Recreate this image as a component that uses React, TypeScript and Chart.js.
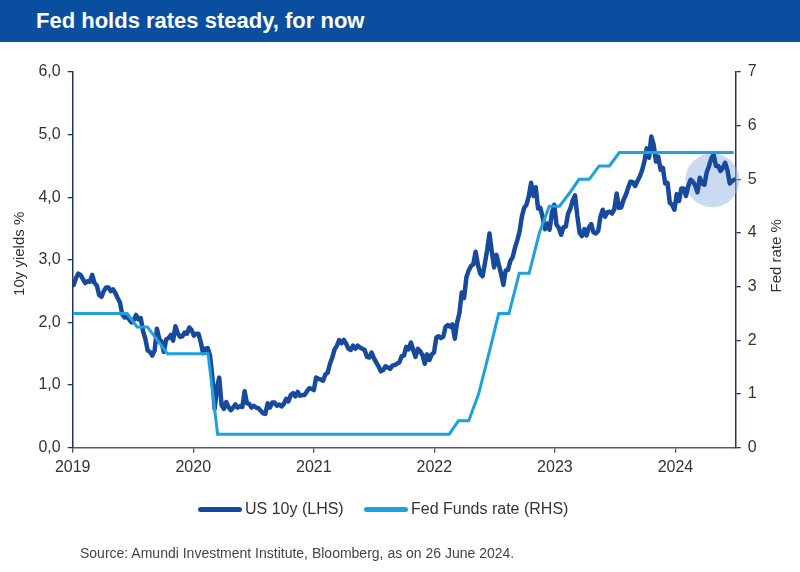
import { useEffect, useRef } from "react";
import { Chart, registerables } from "chart.js";

Chart.register(...registerables);

const TITLE = "Fed holds rates steady, for now";
const SOURCE = "Source: Amundi Investment Institute, Bloomberg, as on 26 June 2024.";
const LEGEND_US = "US 10y (LHS)";
const LEGEND_FED = "Fed Funds rate (RHS)";
const LEFT_TITLE = "10y yields %";
const RIGHT_TITLE = "Fed rate %";

const xMin = 2019;
const xMax = 2024.5;
const xTickYears = [2019, 2020, 2021, 2022, 2023, 2024];
const leftMax = 6;
const rightMax = 7;

// US 10y weekly closes (Fridays), one list per year with its first Friday
const us10yStart2019 = "2019-01-04";
const us10y2019 = [2.60, 2.71, 2.78, 2.76, 2.69, 2.63, 2.66, 2.65, 2.76, 2.63, 2.59, 2.44, 2.41, 2.50, 2.56, 2.56, 2.50, 2.53, 2.47, 2.39, 2.32, 2.13, 2.08, 2.09, 2.05, 2.00, 2.04, 2.12, 2.05, 2.07, 1.86, 1.74, 1.55, 1.53, 1.47, 1.55, 1.90, 1.74, 1.69, 1.53, 1.73, 1.75, 1.80, 1.71, 1.94, 1.83, 1.77, 1.78, 1.84, 1.82, 1.92, 1.88];
const us10yStart2020 = "2020-01-03";
const us10y2020 = [1.79, 1.82, 1.82, 1.68, 1.51, 1.58, 1.59, 1.47, 1.13, 0.62, 0.96, 1.12, 0.68, 0.62, 0.73, 0.65, 0.60, 0.64, 0.69, 0.64, 0.66, 0.65, 0.90, 0.71, 0.70, 0.64, 0.67, 0.64, 0.63, 0.59, 0.55, 0.54, 0.71, 0.64, 0.72, 0.72, 0.67, 0.69, 0.66, 0.70, 0.78, 0.74, 0.84, 0.87, 0.82, 0.89, 0.83, 0.84, 0.84, 0.90, 0.95, 0.94];
const us10yStart2021 = "2021-01-01";
const us10y2021 = [0.92, 1.12, 1.10, 1.09, 1.07, 1.17, 1.20, 1.34, 1.44, 1.57, 1.63, 1.72, 1.67, 1.72, 1.66, 1.58, 1.56, 1.63, 1.58, 1.63, 1.60, 1.58, 1.56, 1.45, 1.44, 1.52, 1.43, 1.36, 1.30, 1.22, 1.24, 1.30, 1.28, 1.26, 1.31, 1.32, 1.34, 1.36, 1.46, 1.47, 1.61, 1.57, 1.68, 1.56, 1.45, 1.58, 1.54, 1.48, 1.34, 1.49, 1.40, 1.49, 1.52];
const us10yStart2022 = "2022-01-07";
const us10y2022 = [1.76, 1.78, 1.75, 1.77, 1.93, 1.96, 1.93, 1.97, 1.74, 2.00, 2.15, 2.48, 2.39, 2.72, 2.83, 2.90, 2.93, 3.13, 2.92, 2.78, 2.74, 2.94, 3.16, 3.42, 3.13, 2.88, 3.08, 2.93, 2.78, 2.60, 2.83, 2.84, 2.98, 3.04, 3.19, 3.31, 3.45, 3.69, 3.83, 3.88, 4.02, 4.23, 4.02, 4.16, 3.82, 3.83, 3.68, 3.49, 3.58, 3.48, 3.75, 3.88];
const us10yStart2023 = "2023-01-06";
const us10y2023 = [3.56, 3.51, 3.40, 3.52, 3.53, 3.74, 3.82, 3.95, 4.03, 3.70, 3.43, 3.38, 3.49, 3.39, 3.52, 3.57, 3.44, 3.42, 3.46, 3.69, 3.80, 3.69, 3.76, 3.77, 3.74, 3.81, 4.06, 3.83, 3.84, 3.96, 4.04, 4.15, 4.25, 4.24, 4.18, 4.26, 4.33, 4.43, 4.57, 4.78, 4.63, 4.97, 4.84, 4.57, 4.65, 4.44, 4.47, 4.22, 4.23, 3.91, 3.88, 3.80];
const us10yStart2024 = "2024-01-05";
const us10y2024 = [4.05, 3.94, 4.14, 4.14, 4.02, 4.18, 4.28, 4.25, 4.19, 4.08, 4.31, 4.22, 4.20, 4.40, 4.50, 4.62, 4.68, 4.50, 4.50, 4.42, 4.47, 4.55, 4.43, 4.22, 4.26, 4.28];

// Fed Funds upper bound, monthly (plotted mid-month)
const fedFirstDate = "2019-01-01";
const fedFirstValue = 2.5;
const fedMonthStart = "2019-01";
const fedMonthly = [
  2.5, 2.5, 2.5, 2.5, 2.5, 2.5, 2.25, 2.25, 2.0, 1.75, 1.75, 1.75,
  1.75, 1.75, 0.25, 0.25, 0.25, 0.25, 0.25, 0.25, 0.25, 0.25, 0.25, 0.25,
  0.25, 0.25, 0.25, 0.25, 0.25, 0.25, 0.25, 0.25, 0.25, 0.25, 0.25, 0.25,
  0.25, 0.25, 0.5, 0.5, 1.0, 1.75, 2.5, 2.5, 3.25, 3.25, 4.0, 4.5,
  4.5, 4.75, 5.0, 5.0, 5.25, 5.25, 5.5, 5.5, 5.5, 5.5, 5.5, 5.5,
  5.5, 5.5, 5.5, 5.5, 5.5, 5.5,
];
const fedLastDate = "2024-06-26";
const fedLastValue = 5.5;

// Highlight bubble (recent months)
const highlightDate = "2024-04-22";
const highlightValue = 4.27;

const FONT = "'Liberation Sans', Arial, Helvetica, sans-serif";
const US_COLOR = "#174a9c";
const FED_COLOR = "#1ea1dc";
const NAVY = "#1f3560";

function yearFrac(d: Date): number {
  const y = d.getUTCFullYear();
  const s = Date.UTC(y, 0, 1);
  const e = Date.UTC(y + 1, 0, 1);
  return y + (d.getTime() - s) / (e - s);
}
function parseDate(s: string): Date {
  return new Date(s + "T00:00:00Z");
}
function weekly(start: string, vals: number[]) {
  const t0 = parseDate(start).getTime();
  return vals.map((v, i) => ({ x: yearFrac(new Date(t0 + i * 7 * 86400000)), y: v }));
}

const highlightPlugin = {
  id: "highlight",
  beforeDatasetsDraw(chart: any) {
    const { ctx, scales } = chart;
    const cx = scales.x.getPixelForValue(yearFrac(parseDate(highlightDate)));
    const cy = scales.y.getPixelForValue(highlightValue);
    ctx.save();
    ctx.beginPath();
    ctx.arc(cx, cy, 27, 0, Math.PI * 2);
    ctx.fillStyle = "rgba(150,182,228,0.5)";
    ctx.fill();
    ctx.restore();
  },
};

const axisTitlesPlugin = {
  id: "axisTitles",
  afterDraw(chart: any) {
    const { ctx, chartArea } = chart;
    const midY = (chartArea.top + chartArea.bottom) / 2;
    ctx.save();
    ctx.font = `15px ${FONT}`;
    ctx.fillStyle = "#333";
    ctx.textAlign = "center";
    ctx.textBaseline = "middle";
    ctx.translate(20, midY - 6);
    ctx.rotate(-Math.PI / 2);
    ctx.fillText(LEFT_TITLE, 0, 0);
    ctx.restore();
    ctx.save();
    ctx.font = `15px ${FONT}`;
    ctx.fillStyle = "#333";
    ctx.textAlign = "center";
    ctx.textBaseline = "middle";
    ctx.translate(777, midY - 4);
    ctx.rotate(-Math.PI / 2);
    ctx.fillText(RIGHT_TITLE, 0, 0);
    ctx.restore();
  },
};

export default function App() {
  const ref = useRef<HTMLCanvasElement | null>(null);

  useEffect(() => {
    document.body.style.margin = "0";
    const usData = [
      ...weekly(us10yStart2019, us10y2019),
      ...weekly(us10yStart2020, us10y2020),
      ...weekly(us10yStart2021, us10y2021),
      ...weekly(us10yStart2022, us10y2022),
      ...weekly(us10yStart2023, us10y2023),
      ...weekly(us10yStart2024, us10y2024),
    ];
    const [fy, fm] = fedMonthStart.split("-").map(Number);
    const fedData = [
      { x: yearFrac(parseDate(fedFirstDate)), y: fedFirstValue },
      ...fedMonthly.map((v, i) => ({
        x: yearFrac(new Date(Date.UTC(fy, fm - 1 + i, 15))),
        y: v,
      })),
      { x: yearFrac(parseDate(fedLastDate)), y: fedLastValue },
    ];

    const tickFont = { family: FONT, size: 16 };
    const chart = new Chart(ref.current as HTMLCanvasElement, {
      type: "line",
      data: {
        datasets: [
          {
            label: LEGEND_US,
            data: usData,
            yAxisID: "y",
            borderColor: US_COLOR,
            backgroundColor: US_COLOR,
            borderWidth: 4.5,
            borderJoinStyle: "round",
            borderCapStyle: "round",
            pointRadius: 0,
            tension: 0,
            order: 1,
          },
          {
            label: LEGEND_FED,
            data: fedData,
            yAxisID: "y1",
            borderColor: FED_COLOR,
            backgroundColor: FED_COLOR,
            borderWidth: 3,
            pointRadius: 0,
            tension: 0,
            order: 0,
          },
        ],
      },
      options: {
        responsive: false,
        animation: false,
        events: [],
        layout: { padding: { top: 30, bottom: 94.3, left: 0, right: 0 } },
        plugins: { legend: { display: false }, tooltip: { enabled: false } },
        scales: {
          x: {
            type: "linear",
            position: "bottom",
            min: xMin,
            max: xMax,
            afterBuildTicks: (s: any) => {
              s.ticks = xTickYears.map((v) => ({ value: v }));
            },
            afterFit: (s: any) => {
              s.height = 30;
            },
            ticks: {
              stepSize: 1,
              autoSkip: false,
              maxRotation: 0,
              padding: 5,
              font: tickFont,
              color: "#333",
              callback: (v: any) => String(v),
            },
            grid: { drawOnChartArea: false, drawTicks: true, tickLength: 5, color: "#555", lineWidth: 1.3 },
            border: { display: true, color: "#5a5a5a", width: 1.5 },
          },
          y: {
            type: "linear",
            position: "left",
            min: 0,
            max: leftMax,
            afterFit: (s: any) => {
              s.width = 72.7;
            },
            ticks: {
              stepSize: 1,
              padding: 7,
              font: tickFont,
              color: "#333",
              callback: (v: any) => Number(v).toFixed(1).replace(".", ","),
            },
            grid: { drawOnChartArea: false, drawTicks: true, tickLength: 5, color: NAVY, lineWidth: 1.3 },
            border: { display: true, color: NAVY, width: 1.5 },
          },
          y1: {
            type: "linear",
            position: "right",
            min: 0,
            max: rightMax,
            afterFit: (s: any) => {
              s.width = 64.3;
            },
            ticks: {
              stepSize: 1,
              padding: 7,
              font: tickFont,
              color: "#333",
              callback: (v: any) => String(v),
            },
            grid: { drawOnChartArea: false, drawTicks: true, tickLength: 5, color: NAVY, lineWidth: 1.3 },
            border: { display: true, color: NAVY, width: 1.5 },
          },
        },
      } as any,
      plugins: [highlightPlugin, axisTitlesPlugin],
    });
    return () => chart.destroy();
  }, []);

  const legendText: any = {
    position: "absolute",
    top: 500,
    height: 18,
    lineHeight: "18px",
    fontFamily: FONT,
    fontSize: 16,
    color: "#333",
    whiteSpace: "nowrap",
  };
  const legendLine = (color: string, left: number): any => ({
    position: "absolute",
    left,
    top: 506.5,
    width: 44,
    height: 5,
    borderRadius: 3,
    background: color,
  });

  return (
    <div style={{ position: "absolute", left: 0, top: 0, width: 800, height: 572, background: "#fff", overflow: "hidden" }}>
      <div
        style={{
          position: "absolute",
          left: 0,
          top: 0,
          width: 800,
          height: 42,
          background: "#0a4f9f",
          color: "#fff",
          fontFamily: FONT,
          fontWeight: "bold",
          fontSize: 22,
          lineHeight: "42px",
          paddingLeft: 36,
          boxSizing: "border-box",
          whiteSpace: "nowrap",
        }}
      >
        {TITLE}
      </div>
      <canvas ref={ref} width={800} height={530} style={{ position: "absolute", left: 0, top: 42, width: 800, height: 530 }} />
      <div style={legendLine(US_COLOR, 198)} />
      <div style={{ ...legendText, left: 245 }}>{LEGEND_US}</div>
      <div style={legendLine(FED_COLOR, 364)} />
      <div style={{ ...legendText, left: 411 }}>{LEGEND_FED}</div>
      <div
        style={{
          position: "absolute",
          left: 80,
          top: 544,
          height: 18,
          lineHeight: "18px",
          fontFamily: FONT,
          fontSize: 14,
          color: "#444",
          whiteSpace: "nowrap",
        }}
      >
        {SOURCE}
      </div>
    </div>
  );
}
